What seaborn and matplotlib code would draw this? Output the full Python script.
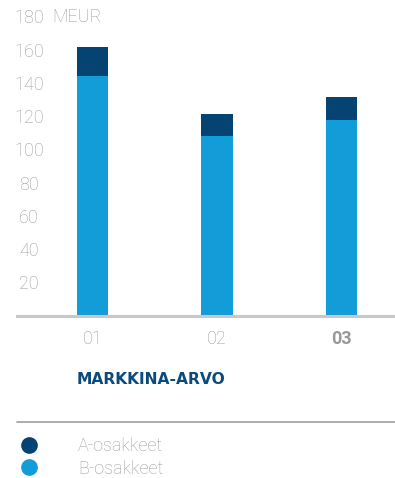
import matplotlib
matplotlib.use("Agg")
import matplotlib.pyplot as plt
from matplotlib.lines import Line2D
import seaborn as sns
import pandas as pd

categories = ["01", "02", "03"]
a_shares = [17.5, 13.2, 13.8]
b_shares = [144.0, 108.0, 117.6]
series_labels = ["A-osakkeet", "B-osakkeet"]
unit_label = "MEUR"
title = "MARKKINA-ARVO"
y_ticks = [20, 40, 60, 80, 100, 120, 140, 160, 180]

DARK = "#044372"
LIGHT = "#129dd9"
GRAY = "#9c9c9c"
TITLE_C = "#0b4a7c"
FS = 13

sns.set_theme(style="white")
plt.rcParams["font.family"] = ["Roboto", "DejaVu Sans"]

df = pd.DataFrame({
    "cat": categories,
    "A": a_shares,
    "B": b_shares,
})
df["total"] = df["A"] + df["B"]

W, H = 395, 478
fig = plt.figure(figsize=(W / 100, H / 100), dpi=100)
ax = fig.add_axes([17 / W, 1 - 315.5 / H, 1 - 17 / W, 305.5 / H])

sns.barplot(data=df, x="cat", y="total", order=categories, color=DARK,
            width=0.25, saturation=1, ax=ax, linewidth=0)
sns.barplot(data=df, x="cat", y="B", order=categories, color=LIGHT,
            width=0.25, saturation=1, ax=ax, linewidth=0)

ax.set_xlim(-0.606, 2.43)
ax.set_ylim(0, 183.8)
ax.set_xlabel("")
ax.set_ylabel("")
for s in ["top", "right", "left"]:
    ax.spines[s].set_visible(False)
ax.spines["bottom"].set_color("#c8c8c8")
ax.spines["bottom"].set_linewidth(2.2)

ax.set_yticks(y_ticks)
ax.set_yticklabels([str(t) for t in y_ticks])
ax.tick_params(axis="y", length=0, pad=-8.6, labelsize=FS, labelcolor=GRAY)
for lab in ax.get_yticklabels():
    lab.set_ha("center")
    lab.set_fontweight("light")

ax.set_xticks(range(len(categories)))
ax.set_xticklabels(categories)
ax.tick_params(axis="x", length=0, pad=10.5, labelsize=FS, labelcolor=GRAY)
for i, lab in enumerate(ax.get_xticklabels()):
    if i == len(categories) - 1:
        lab.set_fontweight("bold")
        lab.set_color("#999999")
    else:
        lab.set_fontweight("light")

fig.text(52 / W, 1 - 17 / H, unit_label, ha="left", va="center",
         fontsize=FS, color=GRAY, fontweight="light")

fig.text(77 / W, 1 - 380 / H, title, ha="left", va="center",
         fontsize=11.2, color=TITLE_C, fontweight="bold",
         family=["Liberation Sans Narrow", "DejaVu Sans"])

fig.add_artist(Line2D([17 / W, 1], [1 - 422 / H, 1 - 422 / H],
                      color="#a6a6a6", lw=1.3))

handles = [Line2D([], [], marker="o", linestyle="", markersize=11,
                  markerfacecolor=c, markeredgecolor=c) for c in (DARK, LIGHT)]
leg = fig.legend(handles, series_labels, loc="upper left",
                 bbox_to_anchor=(21 / W, 1 - 437 / H), frameon=False,
                 borderpad=0, borderaxespad=0, handlelength=0.9,
                 handletextpad=2.25, labelspacing=0.25,
                 prop={"size": FS, "weight": "light"})
for t in leg.get_texts():
    t.set_color(GRAY)

fig.savefig("out.png", dpi=100)
